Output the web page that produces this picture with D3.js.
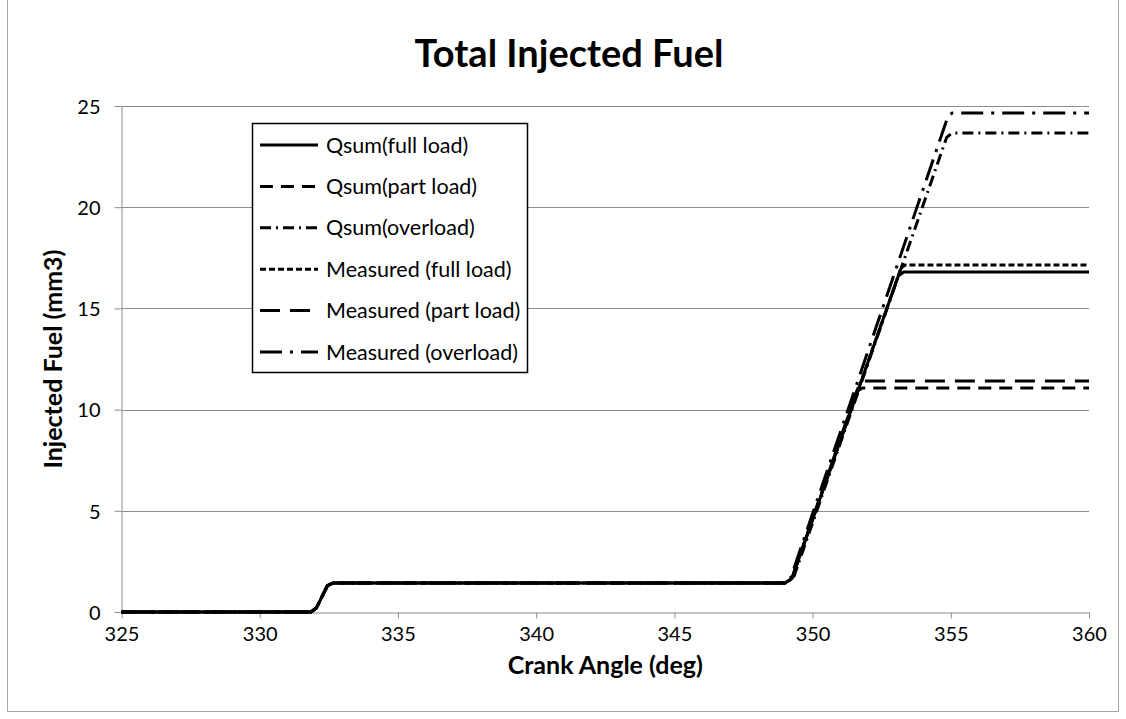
<!DOCTYPE html>
<html>
<head>
<meta charset="utf-8">
<script src="https://cdn.jsdelivr.net/npm/d3@7"></script>
<style>
  body { margin: 0; background: #fff; }
  text { font-family: Lato, "Open Sans", sans-serif; fill: #000; }
</style>
</head>
<body>
<div id="chart"></div>
<script>
var width = 1126;
var height = 719;
var margin = { left: 121.5, right: 37, top: 106, bottom: 107 };

// series names, same order as legend
var seriesNames = [
  "Qsum(full load)",
  "Qsum(part load)",
  "Qsum(overload)",
  "Measured (full load)",
  "Measured (part load)",
  "Measured (overload)"
];

// [crank angle, injected fuel]
var qsumFull = [[325, 0], [331.85, 0], [332.05, 0.2], [332.45, 1.3], [332.65, 1.43], [349.0, 1.43], [349.25, 1.65], [353.1, 16.6], [353.3, 16.8], [360, 16.8]];
var qsumPart = [[325, 0], [331.85, 0], [332.05, 0.2], [332.45, 1.3], [332.65, 1.43], [349.0, 1.43], [349.25, 1.65], [351.6, 10.9], [351.8, 11.07], [360, 11.07]];
var qsumOver = [[325, 0], [331.85, 0], [332.05, 0.2], [332.45, 1.3], [332.65, 1.43], [349.0, 1.43], [349.3, 1.65], [354.85, 23.45], [355.05, 23.67], [360, 23.67]];
var measFull = [[325, 0], [331.85, 0], [332.05, 0.2], [332.45, 1.3], [332.65, 1.43], [349.0, 1.43], [349.25, 1.65], [353.2, 17.0], [353.35, 17.14], [360, 17.14]];
var measPart = [[325, 0], [331.85, 0], [332.05, 0.2], [332.45, 1.3], [332.65, 1.43], [349.0, 1.43], [349.25, 1.65], [351.7, 11.3], [351.85, 11.41], [360, 11.41]];
var measOver = [[325, 0], [331.85, 0], [332.05, 0.2], [332.45, 1.3], [332.65, 1.43], [349.0, 1.43], [349.2, 1.65], [354.9, 24.5], [355.05, 24.65], [360, 24.65]];

var seriesData = [qsumFull, qsumPart, qsumOver, measFull, measPart, measOver];
var dashes = ["none", "13,8", "11,5,2,5", "6,3", "20,10", "22,8,3,8"];

var xTicks = [325, 330, 335, 340, 345, 350, 355, 360];
var yTicks = [0, 5, 10, 15, 20, 25];

var plotW = width - margin.left - margin.right;
var plotH = height - margin.top - margin.bottom;

const svg = d3
  .select("#chart")
  .append("svg")
  .attr("width", width)
  .attr("height", height);

// chart area border
svg
  .append("path")
  .attr("d", "M7.5,0 V711.5 H1118.5 V0")
  .attr("fill", "none")
  .attr("stroke", "#a6a6a6")
  .attr("stroke-width", 1);

const g = svg
  .append("g")
  .attr("transform", `translate(${margin.left},${margin.top})`);

const xScale = d3.scaleLinear().domain([325, 360]).range([0, plotW]);
const yScale = d3.scaleLinear().domain([0, 25]).range([plotH, 0]);

// horizontal gridlines
g.append("g")
  .selectAll("line")
  .data(yTicks.filter((d) => d > 0))
  .enter()
  .append("line")
  .attr("x1", 0)
  .attr("x2", plotW)
  .attr("y1", (d) => Math.round(yScale(d)) + 0.5)
  .attr("y2", (d) => Math.round(yScale(d)) + 0.5)
  .attr("stroke", "#8c8c8c")
  .attr("stroke-width", 1);

// axes
const xAxis = g
  .append("g")
  .attr("class", "x-axis")
  .attr("transform", `translate(0,${Math.round(plotH) + 0.5})`)
  .call(d3.axisBottom(xScale).tickValues(xTicks).tickSize(6).tickSizeOuter(0).tickPadding(8));

const yAxis = g
  .append("g")
  .attr("class", "y-axis")
  .call(d3.axisLeft(yScale).tickValues(yTicks).tickSize(7).tickSizeOuter(0).tickPadding(14));

[xAxis, yAxis].forEach(function (ax) {
  ax.select(".domain").attr("stroke", "#8c8c8c");
  ax.selectAll(".tick line").attr("stroke", "#8c8c8c");
  ax.selectAll(".tick text")
    .style("font-family", "Lato, sans-serif")
    .style("font-size", "20px")
    .attr("fill", "#000");
});
yAxis.selectAll(".tick text").attr("dy", "0.36em");

// lines
const line = d3
  .line()
  .x((d) => xScale(d[0]))
  .y((d) => yScale(d[1]));

g.append("g")
  .selectAll("path")
  .data(seriesData)
  .enter()
  .append("path")
  .attr("d", line)
  .attr("fill", "none")
  .attr("stroke", "#000")
  .attr("stroke-width", 3)
  .attr("stroke-linejoin", "round")
  .attr("stroke-dasharray", (d, i) => dashes[i]);

// title and axis labels
svg
  .append("text")
  .attr("x", 569)
  .attr("y", 67)
  .style("text-anchor", "middle")
  .style("font-size", "38px")
  .style("font-weight", "bold")
  .text("Total Injected Fuel");

svg
  .append("text")
  .attr("x", margin.left + plotW / 2)
  .attr("y", 674)
  .style("text-anchor", "middle")
  .style("font-size", "25px")
  .style("font-weight", "bold")
  .text("Crank Angle (deg)");

svg
  .append("text")
  .attr("transform", `translate(62,${margin.top + plotH / 2}) rotate(-90)`)
  .style("text-anchor", "middle")
  .style("font-size", "25px")
  .style("font-weight", "bold")
  .text("Injected Fuel (mm3)");

// legend
const legend = svg.append("g").attr("transform", "translate(252,123)");

legend
  .append("rect")
  .attr("x", 0.5)
  .attr("y", 0.5)
  .attr("width", 275)
  .attr("height", 249)
  .attr("fill", "#fff")
  .attr("stroke", "#000")
  .attr("stroke-width", 1.5);

const items = legend
  .selectAll(".item")
  .data(seriesNames)
  .enter()
  .append("g")
  .attr("class", "item")
  .attr("transform", (d, i) => `translate(0,${22 + i * 41.4})`);

items
  .append("line")
  .attr("x1", 8)
  .attr("x2", 66)
  .attr("y1", 0)
  .attr("y2", 0)
  .attr("stroke", "#000")
  .attr("stroke-width", 3)
  .attr("stroke-dasharray", (d, i) => dashes[i]);

items
  .append("text")
  .attr("x", 74)
  .attr("y", 0)
  .attr("dy", "0.35em")
  .style("font-size", "21.5px")
  .text((d) => d);
</script>
</body>
</html>
